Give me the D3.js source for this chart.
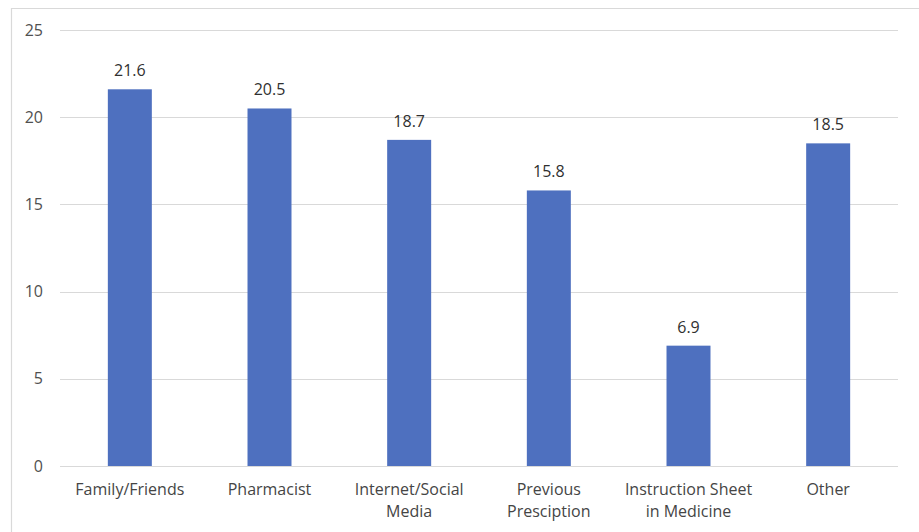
<!DOCTYPE html>
<html>
<head>
<meta charset="utf-8">
<script src="https://cdn.jsdelivr.net/npm/d3@7"></script>
<style>
  html, body { margin: 0; padding: 0; background: #fff; }
  svg { display: block; }
  text { font-family: "Open Sans", "Liberation Sans", sans-serif; }
</style>
</head>
<body>
<svg id="chart" width="919" height="532"></svg>
<script>
// Information sources (percent of respondents)
const categories = [
  ["Family/Friends"],
  ["Pharmacist"],
  ["Internet/Social", "Media"],
  ["Previous", "Presciption"],
  ["Instruction Sheet", "in Medicine"],
  ["Other"]
];
const values = [21.6, 20.5, 18.7, 15.8, 6.9, 18.5];
const yTicks = [0, 5, 10, 15, 20, 25];

const svg = d3.select("#chart");
const W = 919, H = 532;
const plot = { left: 60, right: 898, top: 30, bottom: 466 };

// chart frame
svg.append("path")
  .attr("d", `M11.5,${H} V8.5 H${W}`)
  .attr("fill", "none")
  .attr("stroke", "#d9d9d9")
  .attr("stroke-width", 1.2);

const keys = categories.map(c => c.join(" "));
const x = d3.scaleBand().domain(keys).range([plot.left, plot.right]).padding(0);
const y = d3.scaleLinear().domain([0, 25]).range([plot.bottom, plot.top]);
const barW = x.step() * 0.315;

// gridlines
svg.append("g")
  .selectAll("line")
  .data(yTicks)
  .join("line")
  .attr("x1", plot.left).attr("x2", plot.right)
  .attr("y1", d => Math.round(y(d)) + 0.5).attr("y2", d => Math.round(y(d)) + 0.5)
  .attr("stroke", "#d9d9d9")
  .attr("stroke-width", 1.2);

// y tick labels
const yAxis = d3.axisLeft(y).tickValues(yTicks).tickSize(0).tickPadding(0);
const gy = svg.append("g").attr("transform", `translate(43,0)`).call(yAxis);
gy.select(".domain").remove();
gy.selectAll("text")
  .attr("font-size", 16)
  .attr("fill", "#505050")
  .style("font-family", '"Open Sans", sans-serif');

// bars
svg.append("g")
  .selectAll("rect")
  .data(values)
  .join("rect")
  .attr("x", (d, i) => x(keys[i]) + x.bandwidth() / 2 - barW / 2)
  .attr("width", barW)
  .attr("y", d => y(d))
  .attr("height", d => y(0) - y(d))
  .attr("fill", "#4e70bf");

// value labels
svg.append("g")
  .selectAll("text")
  .data(values)
  .join("text")
  .attr("x", (d, i) => x(keys[i]) + x.bandwidth() / 2)
  .attr("y", d => y(d) - 13)
  .attr("text-anchor", "middle")
  .attr("font-size", 16)
  .attr("fill", "#303030")
  .text(d => d.toFixed(1));

// category labels
const gx = svg.append("g");
categories.forEach((lines, i) => {
  const t = gx.append("text")
    .attr("x", x(keys[i]) + x.bandwidth() / 2)
    .attr("y", 495)
    .attr("text-anchor", "middle")
    .attr("font-size", 16)
    .attr("fill", "#454545");
  lines.forEach((ln, j) => {
    t.append("tspan")
      .attr("x", x(keys[i]) + x.bandwidth() / 2)
      .attr("dy", j === 0 ? 0 : 22)
      .text(ln);
  });
});
</script>
</body>
</html>
